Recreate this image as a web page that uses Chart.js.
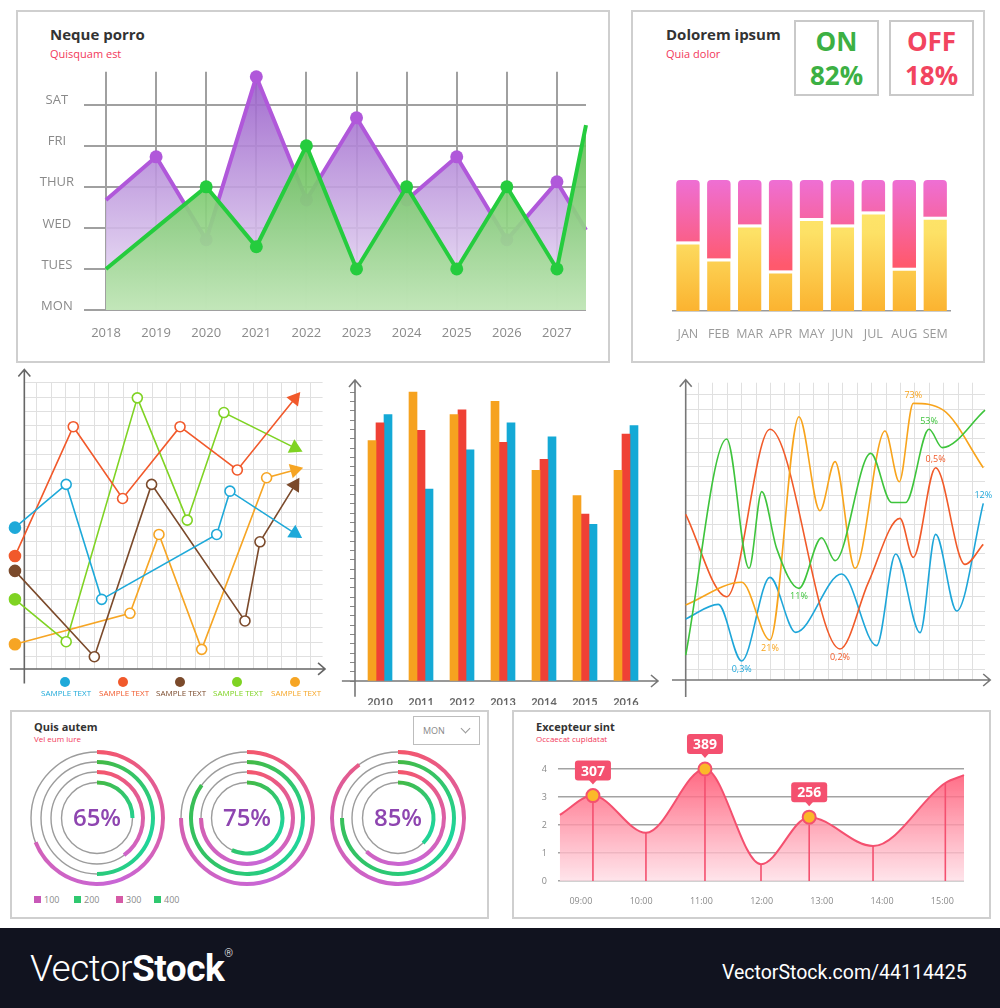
<!DOCTYPE html>
<html lang="en">
<head>
<meta charset="UTF-8">
<title>Dashboard charts</title>
<script src="https://cdn.jsdelivr.net/npm/chart.js"></script>
<style>
  body { margin:0; width:1000px; height:1008px; position:relative; overflow:hidden; background:#fff; font-family:'Open Sans', sans-serif; }
  canvas { position:absolute; }
  .panel { position:absolute; border:2px solid #cfcfcf; box-sizing:border-box; }
  .txt { position:absolute; white-space:nowrap; line-height:1; }
  .title { font-weight:700; color:#333; }
  .sub { color:#f2385a; }
  .stat { position:absolute; border:2px solid #c9c9c9; box-sizing:border-box; display:flex; flex-direction:column; align-items:center; justify-content:center; font-weight:700; font-size:26px; line-height:34px; }
  .footer { position:absolute; left:0; top:928px; width:1000px; height:80px; background:#11131f; color:#fff; font-family:Roboto, sans-serif; }
</style>
</head>
<body>
<div class="panel" style="left:16px;top:10px;width:594px;height:353px"></div>
<div class="panel" style="left:631px;top:10px;width:354px;height:353px"></div>
<div class="panel" style="left:10px;top:710px;width:479px;height:209px"></div>
<div class="panel" style="left:512px;top:710px;width:479px;height:209px"></div>

<div class="txt title" style="left:50px;top:27px;font-size:15px">Neque porro</div>
<div class="txt sub" style="left:50px;top:48px;font-size:11px">Quisquam est</div>
<div class="txt title" style="left:666px;top:27px;font-size:15px">Dolorem ipsum</div>
<div class="txt sub" style="left:666px;top:48px;font-size:11px">Quia dolor</div>
<div class="stat" style="left:794px;top:20px;width:85px;height:76px;color:#3cb043"><span>ON</span><span>82%</span></div>
<div class="stat" style="left:889px;top:20px;width:85px;height:76px;color:#f2445f"><span>OFF</span><span>18%</span></div>

<div class="txt title" style="left:34px;top:721px;font-size:11px">Quis autem</div>
<div class="txt sub" style="left:34px;top:735px;font-size:8px">Vel eum iure</div>
<div style="position:absolute;left:413px;top:716px;width:67px;height:29px;border:1.5px solid #bdbdbd;box-sizing:border-box">
  <span class="txt" style="left:9px;top:9px;font-size:9px;color:#888">MON</span>
  <span style="position:absolute;left:48px;top:8px;width:6px;height:6px;border-right:1.2px solid #999;border-bottom:1.2px solid #999;transform:rotate(45deg)"></span>
</div>
<div class="txt title" style="left:536px;top:721px;font-size:11px">Excepteur sint</div>
<div class="txt sub" style="left:536px;top:735px;font-size:8px">Occaecat cupidatat</div>

<div class="footer">
  <div class="txt" style="left:30px;top:22px;font-size:37px;letter-spacing:-0.5px"><span style="font-weight:300">Vector</span><span style="font-weight:700">Stock</span><sup style="font-size:11px;font-weight:300;vertical-align:top;position:relative;top:-2px">®</sup></div>
  <div class="txt" style="left:722px;top:35px;font-size:19.5px;font-weight:400">VectorStock.com/44114425</div>
</div>

<script>
// ---- Neque porro: weekday area lines ----
const dayLabels = ['MON', 'TUES', 'WED', 'THUR', 'FRI', 'SAT'];
const yearTicks = [2018, 2019, 2020, 2021, 2022, 2023, 2024, 2025, 2026, 2027];
const areaX = [2018, 2019, 2020, 2021, 2022, 2023, 2024, 2025, 2026, 2027, 2027.58];
const purpleDays = [2.68, 3.73, 1.71, 5.68, 2.68, 4.68, 2.68, 3.73, 1.71, 3.12, 1.95];
const greenDays = [1, 2, 3, 1.54, 4, 1, 3, 1, 3, 1, 4.5];

// ---- Dolorem ipsum: on/off stacked bars ----
const months = ['JAN', 'FEB', 'MAR', 'APR', 'MAY', 'JUN', 'JUL', 'AUG', 'SEM'];
const onShare = [53, 40, 66, 31, 71, 66, 76, 33, 72];
const offShare = [47, 60, 34, 69, 29, 34, 24, 67, 28];

// ---- zigzag lines with arrows ----
const bluePts = [[-0.65, 9.8], [2.9, 12.8], [5.36, 4.83], [13.33, 9.33], [14.25, 12.33], [18.75, 9.4]];
const redPts = [[-0.65, 7.83], [3.39, 16.8], [6.81, 11.82], [10.79, 16.8], [14.76, 13.8], [18.75, 18.75]];
const brownPts = [[-0.65, 6.8], [4.85, 0.85], [8.82, 12.8], [15.29, 3.33], [16.33, 8.82], [18.75, 12.75]];
const limePts = [[-0.65, 4.83], [2.9, 1.89], [7.83, 18.8], [11.29, 10.32], [13.83, 17.78], [18.75, 15.33]];
const amberPts = [[-0.65, 1.71], [7.32, 3.86], [9.33, 9.33], [12.29, 1.36], [16.79, 13.26], [18.75, 13.8]];
const zigLegend = ['SAMPLE TEXT', 'SAMPLE TEXT', 'SAMPLE TEXT', 'SAMPLE TEXT', 'SAMPLE TEXT'];

// ---- grouped bars 2010-2016 ----
const barYears = [2010, 2011, 2012, 2013, 2014, 2015, 2016];
const orangeBars = [25.8, 31.0, 28.6, 30.0, 22.6, 19.9, 22.6];
const redBars = [27.7, 26.9, 29.1, 25.6, 23.8, 17.9, 26.5];
const blueBars = [28.6, 20.6, 24.8, 27.7, 26.2, 16.8, 27.4];

// ---- wavy lines ----
const greenWave = [[0, 1.73], [2.84, 16.7], [4.39, 7.74], [5.27, 13.05], [6.3, 9.12], [7.85, 6.35], [9.42, 9.86], [10.35, 8.27], [12.82, 15.7], [14.27, 12.3], [15.24, 12.3], [16.86, 17.37], [17.78, 16.1], [20.74, 18.7]];
const orangeWave = [[0, 5.2], [3.88, 6.77], [5.84, 2.77], [7.85, 18.24], [9.3, 11.73], [10.35, 15.13], [11.73, 7.74], [13.81, 17.25], [14.8, 13.74], [15.77, 19.17], [17.85, 18.7], [20.62, 14.71]];
const redWave = [[0, 11.48], [2.84, 5.77], [5.84, 17.37], [10.69, 2.15], [12.66, 6.77], [14.85, 11.2], [15.77, 8.5], [17.32, 14.71], [19.35, 8.01], [20.62, 9.4]];
const blueWave = [[0, 4.23], [2.26, 5.24], [3.88, 1.32], [5.84, 7.11], [7.62, 3.3], [10.81, 7.34], [13.23, 2.38], [14.55, 8.73], [16.24, 3.28], [17.32, 10.09], [18.78, 4.78], [20.62, 12.24]];
// [text, series, point]
const waveTags = [['73%', 1, 9], ['53%', 0, 11], ['0,5%', 2, 7], ['12%', 3, 11], ['11%', 0, 5], ['21%', 1, 2], ['0,2%', 2, 3], ['0,3%', 3, 2]];

// ---- Quis autem: ring gauges ----
const ringShare = [[69, 50, 40, 25], [75, 85, 75, 57], [90, 75, 62, 37.5]];
const donutLabels = ['65%', '75%', '85%'];
const ringLegend = ['100', '200', '300', '400'];

// ---- Excepteur sint: area over time ----
const timeTicks = [9, 10, 11, 12, 13, 14, 15];
const timeLabels = ['09:00', '10:00', '11:00', '12:00', '13:00', '14:00', '15:00'];
const loadHours = [8.65, 9.2, 10.08, 11.06, 11.99, 12.79, 13.85, 15.05, 15.36];
const loadVals = [2.36, 3.05, 1.72, 4.0, 0.6, 2.28, 1.25, 3.5, 3.78];
const calloutIdx = [1, 3, 5];
const calloutText = ['307', '389', '256'];

Chart.defaults.font.family = "'Open Sans', sans-serif";
Chart.defaults.animation = false;
Chart.defaults.events = [];
Chart.defaults.plugins.legend.display = false;
Chart.defaults.plugins.tooltip.enabled = false;

function makeCanvas(left, top, w, h) {
    const c = document.createElement('canvas');
    c.width = w; c.height = h;
    c.style.left = left + 'px'; c.style.top = top + 'px';
    document.body.appendChild(c);
    return c.getContext('2d');
}

function addText(text, left, top, css) {
    const d = document.createElement('div');
    d.className = 'txt';
    d.textContent = text;
    d.style.cssText += `left:${left}px;top:${top}px;` + css;
    document.body.appendChild(d);
}

// vertical gradient over the chart area
function vGrad(chart, stops) {
    const a = chart.chartArea;
    if (!a) return stops[0][1];
    const g = chart.ctx.createLinearGradient(0, a.top, 0, a.bottom);
    stops.forEach(s => g.addColorStop(s[0], s[1]));
    return g;
}

function gridTicks(offset, max) {
    const t = [];
    for (let v = offset; v <= max; v += 1) t.push({ value: v });
    return t;
}

// axis lines with open arrow heads, placed in data units
const axisArrows = {
    id: 'axisArrows',
    beforeDatasetsDraw(chart, args, opts) {
        const { ctx, scales: { x, y } } = chart;
        const ox = x.getPixelForValue(opts.origin[0]), oy = y.getPixelForValue(opts.origin[1]);
        const x0 = x.getPixelForValue(opts.xSpan[0]), x1 = x.getPixelForValue(opts.xSpan[1]);
        const y0 = y.getPixelForValue(opts.ySpan[0]), y1 = y.getPixelForValue(opts.ySpan[1]);
        ctx.save();
        if (opts.mask) {
            // keep the grid to the positive quadrant
            const a = chart.chartArea;
            ctx.fillStyle = '#ffffff';
            ctx.fillRect(a.left - 1, a.top - 1, ox - a.left + 1, a.bottom - a.top + 2);
            ctx.fillRect(a.left - 1, oy, a.right - a.left + 2, a.bottom - oy + 1);
        }
        ctx.strokeStyle = opts.color;
        ctx.lineWidth = 1.6;
        ctx.beginPath();
        ctx.moveTo(x0, oy); ctx.lineTo(x1, oy);
        ctx.moveTo(ox, y0); ctx.lineTo(ox, y1);
        ctx.moveTo(x1 - 7, oy - 6); ctx.lineTo(x1, oy); ctx.lineTo(x1 - 7, oy + 6);
        ctx.moveTo(ox - 6, y1 + 7); ctx.lineTo(ox, y1); ctx.lineTo(ox + 6, y1 + 7);
        ctx.stroke();
        ctx.restore();
    }
};

// ---------- chart 1 ----------
new Chart(makeCanvas(30, 54, 566, 296), {
    type: 'line',
    data: {
        datasets: [
            {
                data: greenDays.map((v, i) => ({ x: areaX[i], y: v })),
                borderColor: '#25cc3e', borderWidth: 4, tension: 0, fill: 'start', order: 1, clip: false,
                backgroundColor: ctx => vGrad(ctx.chart, [[0, 'rgba(66,176,50,0.92)'], [1, 'rgba(190,230,180,0.92)']]),
                pointRadius: ctx => [0, 1, 10].includes(ctx.dataIndex) ? 0 : 6.5,
                pointBackgroundColor: '#25cc3e', pointBorderWidth: 0
            },
            {
                data: purpleDays.map((v, i) => ({ x: areaX[i], y: v })),
                borderColor: '#b058da', borderWidth: 4, tension: 0, fill: 'start', order: 2, clip: false,
                backgroundColor: ctx => vGrad(ctx.chart, [[0, 'rgba(150,90,200,0.9)'], [1, 'rgba(240,232,248,0.9)']]),
                pointRadius: ctx => [0, 10].includes(ctx.dataIndex) ? 0 : 6.5,
                pointBackgroundColor: '#b058da', pointBorderWidth: 0
            }
        ]
    },
    options: {
        responsive: false,
        layout: { padding: { top: 12, right: 10 } },
        scales: {
            x: {
                type: 'linear', min: 2018, max: 2027.58,
                afterBuildTicks: s => { s.ticks = yearTicks.map(v => ({ value: v })); },
                ticks: { callback: v => String(v), color: '#8a8a8a', font: { size: 13 }, padding: 15 },
                grid: { color: '#a0a0a0', lineWidth: 2, drawTicks: false },
                border: { display: false },
                afterFit: s => { s.height = 40; }
            },
            y: {
                min: 0, max: 5.8,
                afterBuildTicks: s => { s.ticks = dayLabels.map((d, i) => ({ value: i })); },
                ticks: { callback: v => dayLabels[v], color: '#8a8a8a', font: { size: 13 }, crossAlign: 'center', padding: 10, labelOffset: -4 },
                grid: { color: '#a0a0a0', lineWidth: 2, tickLength: 22 },
                border: { display: false },
                afterFit: s => { s.width = 76; }
            }
        }
    }
});

// ---------- chart 2 ----------
new Chart(makeCanvas(655, 165, 310, 190), {
    type: 'bar',
    data: {
        labels: months,
        datasets: [
            {
                data: onShare,
                backgroundColor: ctx => vGrad(ctx.chart, [[0, '#fee96f'], [0.4, '#fde166'], [1, '#fbb330']]),
                borderColor: '#ffffff', borderWidth: { top: 3 }, borderSkipped: 'bottom'
            },
            {
                data: offShare,
                backgroundColor: ctx => vGrad(ctx.chart, [[0, '#ee6fd4'], [0.65, '#ff596d'], [1, '#ff596d']]),
                borderWidth: 0, borderRadius: { topLeft: 4, topRight: 4 }, borderSkipped: false
            }
        ]
    },
    options: {
        responsive: false,
        datasets: { bar: { barPercentage: 0.76, categoryPercentage: 1 } },
        layout: { padding: { left: 17.5, right: 14.4, top: 15 } },
        scales: {
            x: {
                stacked: true,
                grid: { display: false },
                border: { color: '#9a9a9a', width: 1.5 },
                ticks: { color: '#9a9a9a', font: { size: 12.5 }, padding: 8, maxRotation: 0, minRotation: 0, autoSkip: false },
                afterFit: s => { s.height = 44; }
            },
            y: { stacked: true, display: false, min: 0, max: 100 }
        }
    }
});

// ---------- chart 3 ----------
const zigSeries = [bluePts, redPts, brownPts, limePts, amberPts];
const zigColors = ['#1ea9d9', '#f1592b', '#7b4a2b', '#7fd323', '#f6a524'];
new Chart(makeCanvas(0, 360, 340, 345), {
    type: 'scatter',
    data: {
        datasets: zigSeries.map((pts, k) => ({
            data: pts.map(p => ({ x: p[0], y: p[1] })),
            showLine: true, clip: false,
            borderColor: zigColors[k], borderWidth: 1.6,
            pointBorderColor: zigColors[k], pointBorderWidth: 1.6,
            pointRadius: ctx => ctx.dataIndex === 0 ? 5.5 : (ctx.dataIndex === pts.length - 1 ? 7 : 5),
            pointBackgroundColor: ctx => (ctx.dataIndex === 0 || ctx.dataIndex === pts.length - 1) ? zigColors[k] : '#ffffff',
            pointStyle: ctx => ctx.dataIndex === pts.length - 1 ? 'triangle' : 'circle',
            pointRotation: ctx => {
                const i = ctx.dataIndex;
                if (i !== pts.length - 1) return 0;
                const xs = ctx.chart.scales.x, ys = ctx.chart.scales.y;
                const dx = xs.getPixelForValue(pts[i][0]) - xs.getPixelForValue(pts[i - 1][0]);
                const dy = ys.getPixelForValue(pts[i][1]) - ys.getPixelForValue(pts[i - 1][1]);
                return Math.atan2(dy, dx) * 180 / Math.PI + 90;
            }
        }))
    },
    options: {
        responsive: false,
        layout: { padding: { left: 9.9, right: 17.4, top: 22, bottom: 21.6 } },
        scales: {
            x: {
                min: -1, max: 20.67,
                afterBuildTicks: s => { s.ticks = gridTicks(0.85, 20.67); },
                ticks: { display: false }, grid: { color: '#e0e0e0', drawTicks: false }, border: { display: false },
                afterFit: s => { s.height = 0; }
            },
            y: {
                min: -1, max: 19.9,
                afterBuildTicks: s => { s.ticks = gridTicks(0.85, 19.9); },
                ticks: { display: false }, grid: { color: '#e0e0e0', drawTicks: false }, border: { display: false },
                afterFit: s => { s.width = 0; }
            }
        },
        plugins: { axisArrows: { color: '#666', origin: [0, 0], xSpan: [-1, 20.84], ySpan: [-1, 20.76], mask: true } }
    },
    plugins: [axisArrows]
});
// legend for chart 3
const zigLegendX = [65, 123, 180, 237, 295];
zigLegend.forEach((t, k) => {
    const dot = document.createElement('div');
    dot.style.cssText = `position:absolute;left:${zigLegendX[k] - 5}px;top:677px;width:10px;height:10px;border-radius:50%;background:${zigColors[k]}`;
    document.body.appendChild(dot);
    addText(t, zigLegendX[k] - 24, 689, `font-size:8px;color:${zigColors[k]};width:48px;text-align:center`);
});

// ---------- chart 4 ----------
new Chart(makeCanvas(340, 370, 325, 335), {
    type: 'bar',
    data: {
        labels: barYears,
        datasets: [
            { data: orangeBars, backgroundColor: '#f6a21f' },
            { data: redBars, backgroundColor: '#ef4135' },
            { data: blueBars, backgroundColor: '#14a9d6' }
        ]
    },
    options: {
        responsive: false,
        datasets: { bar: { barThickness: 8, borderWidth: 0 } },
        layout: { padding: { left: 10, right: 14, top: 10 } },
        scales: {
            x: {
                type: 'linear', min: 2009.39, max: 2016.61, offset: false,
                afterBuildTicks: s => { s.ticks = barYears.map(v => ({ value: v })); },
                ticks: { callback: v => String(v), color: '#666', font: { size: 11, weight: 'bold', family: 'Lato' }, padding: 7 },
                grid: { display: false }, border: { display: false },
                afterFit: s => { s.height = 24; }
            },
            y: {
                min: 0, max: 32.3,
                ticks: { display: false, stepSize: 1 },
                afterBuildTicks: s => { s.ticks = s.ticks.filter(t => Number.isInteger(t.value)); },
                grid: { drawOnChartArea: false, tickLength: 5, color: '#888' },
                border: { display: false },
                afterFit: s => { s.width = 5; }
            }
        },
        plugins: { axisArrows: { color: '#777', origin: [2009.39, 0], xSpan: [2009.07, 2016.78], ySpan: [-1.7, 32.3] } }
    },
    plugins: [axisArrows]
});

// ---------- chart 5 ----------
const waveSeries = [greenWave, orangeWave, redWave, blueWave];
const waveColors = ['#3ec43c', '#f8a41c', '#f15a29', '#1ea6d9'];
const waveTagPlugin = {
    id: 'waveTags',
    afterDatasetsDraw(chart) {
        const { ctx } = chart;
        ctx.save();
        ctx.font = "9px 'Open Sans', sans-serif";
        ctx.textAlign = 'center';
        ctx.textBaseline = 'middle';
        waveTags.forEach(([text, s, i]) => {
            const pts = waveSeries[s];
            const el = chart.getDatasetMeta(s).data[i];
            const prev = pts[i - 1] ? pts[i - 1][1] : -Infinity;
            const next = pts[i + 1] ? pts[i + 1][1] : -Infinity;
            const isPeak = pts[i][1] >= prev && pts[i][1] >= next;
            ctx.fillStyle = waveColors[s];
            ctx.fillText(text, el.x, el.y + (isPeak ? -8 : 8));
        });
        ctx.restore();
    }
};
new Chart(makeCanvas(665, 365, 335, 340), {
    type: 'scatter',
    data: {
        datasets: waveSeries.map((pts, k) => ({
            data: pts.map(p => ({ x: p[0], y: p[1] })),
            showLine: true, cubicInterpolationMode: 'monotone', clip: false,
            borderColor: waveColors[k], borderWidth: 1.6, pointRadius: 0
        }))
    },
    options: {
        responsive: false,
        layout: { padding: { left: 20.7, right: 15, top: 17.7, bottom: 25 } },
        scales: {
            x: {
                min: 0, max: 20.74,
                afterBuildTicks: s => { s.ticks = gridTicks(0.88, 20.74); },
                ticks: { display: false }, grid: { color: '#e0e0e0', drawTicks: false }, border: { display: false },
                afterFit: s => { s.height = 0; }
            },
            y: {
                min: 0, max: 20.6,
                afterBuildTicks: s => { s.ticks = gridTicks(0.76, 20.6); },
                ticks: { display: false }, grid: { color: '#e0e0e0', drawTicks: false }, border: { display: false },
                afterFit: s => { s.width = 0; }
            }
        },
        plugins: { axisArrows: { color: '#777', origin: [0, 0], xSpan: [-0.95, 21.1], ySpan: [-1.18, 20.8] } }
    },
    plugins: [axisArrows, waveTagPlugin]
});

// ---------- chart 6: ring gauges ----------
const pinkStops = [[0, '#f4566a'], [0.45, '#c866d6'], [0.75, '#d45fb0'], [1, '#f4566a']];
const greenStops = [[0, '#44b944'], [0.3, '#1fd59c'], [0.6, '#30c468'], [1, '#44b944']];
function conic(chart, stops) {
    const a = chart.chartArea;
    if (!a) return stops[0][1];
    const g = chart.ctx.createConicGradient(-Math.PI / 2, (a.left + a.right) / 2, (a.top + a.bottom) / 2);
    stops.forEach(s => g.addColorStop(s[0], s[1]));
    return g;
}
const ringTracks = {
    id: 'ringTracks',
    beforeDatasetsDraw(chart) {
        const { ctx } = chart;
        ctx.save();
        ctx.strokeStyle = '#9c9c9c';
        ctx.lineWidth = 1.4;
        chart.data.datasets.forEach((ds, i) => {
            if (!ds.ring) return;
            const arc = chart.getDatasetMeta(i).data[0];
            ctx.beginPath();
            ctx.arc(arc.x, arc.y, (arc.innerRadius + arc.outerRadius) / 2, 0, Math.PI * 2);
            ctx.stroke();
        });
        ctx.restore();
    }
};
const centerLabel = {
    id: 'centerLabel',
    afterDraw(chart, args, opts) {
        const { ctx, chartArea: a } = chart;
        ctx.save();
        ctx.font = "600 24px 'Open Sans', sans-serif";
        ctx.fillStyle = '#8e45b0';
        ctx.textAlign = 'center';
        ctx.textBaseline = 'middle';
        ctx.fillText(opts.text, (a.left + a.right) / 2, (a.top + a.bottom) / 2 + 1);
        ctx.restore();
    }
};
const donutCenters = [97, 247, 398];
ringShare.forEach((rings, k) => {
    const datasets = [];
    rings.forEach((v, j) => {
        if (j > 0) datasets.push({ data: [1], weight: j === 3 ? 6.5 : 6, backgroundColor: 'rgba(0,0,0,0)', borderWidth: 0 });
        datasets.push({
            data: [v, 100 - v], weight: 4, ring: true, borderWidth: 0,
            backgroundColor: ctx => ctx.dataIndex === 0 ? conic(ctx.chart, j % 2 === 0 ? pinkStops : greenStops) : 'rgba(0,0,0,0)'
        });
    });
    new Chart(makeCanvas(donutCenters[k] - 68, 818 - 68, 136, 136), {
        type: 'doughnut',
        data: { datasets },
        options: {
            responsive: false,
            cutout: 33.5,
            plugins: { centerLabel: { text: donutLabels[k] } }
        },
        plugins: [ringTracks, centerLabel]
    });
});
const ringLegendX = [34, 74, 116, 154];
const ringLegendColors = ['#c858b8', '#2fc86f', '#d65aa6', '#2fc86f'];
ringLegend.forEach((t, k) => {
    const sq = document.createElement('div');
    sq.style.cssText = `position:absolute;left:${ringLegendX[k]}px;top:896px;width:7px;height:7px;background:${ringLegendColors[k]}`;
    document.body.appendChild(sq);
    addText(t, ringLegendX[k] + 10, 895, 'font-size:9px;color:#8a8a8a');
});

// ---------- chart 7 ----------
const dropLines = {
    id: 'dropLines',
    afterDatasetsDraw(chart) {
        const { ctx, chartArea: a } = chart;
        const pts = chart.getDatasetMeta(0).data;
        ctx.save();
        ctx.strokeStyle = '#f4506f';
        ctx.lineWidth = 1.6;
        pts.forEach((p, i) => {
            if (i === 0 || i === pts.length - 1) return;
            const top = calloutIdx.includes(i) ? p.y + 7.5 : p.y;
            ctx.beginPath();
            ctx.moveTo(p.x, top);
            ctx.lineTo(p.x, a.bottom);
            ctx.stroke();
        });
        ctx.restore();
    }
};
const callouts = {
    id: 'callouts',
    afterDraw(chart) {
        const { ctx } = chart;
        const pts = chart.getDatasetMeta(0).data;
        ctx.save();
        calloutIdx.forEach((idx, k) => {
            const p = pts[idx];
            const w = 36, h = 20, bottom = p.y - 15;
            ctx.fillStyle = '#f4506f';
            ctx.beginPath();
            ctx.roundRect(p.x - w / 2, bottom - h, w, h, 3);
            ctx.fill();
            ctx.beginPath();
            ctx.moveTo(p.x - 4, bottom - 0.5);
            ctx.lineTo(p.x, bottom + 4);
            ctx.lineTo(p.x + 4, bottom - 0.5);
            ctx.fill();
            ctx.fillStyle = '#ffffff';
            ctx.font = "bold 14px 'Open Sans', sans-serif";
            ctx.textAlign = 'center';
            ctx.textBaseline = 'middle';
            ctx.fillText(calloutText[k], p.x, bottom - h / 2 + 1);
        });
        ctx.restore();
    }
};
new Chart(makeCanvas(515, 728, 470, 185), {
    type: 'line',
    data: {
        datasets: [{
            data: loadHours.map((h, i) => ({ x: h, y: loadVals[i] })),
            borderColor: '#f4506f', borderWidth: 2, cubicInterpolationMode: 'monotone', fill: 'start', clip: false,
            backgroundColor: ctx => vGrad(ctx.chart, [[0, 'rgba(255,78,108,0.85)'], [1, 'rgba(255,222,230,0.8)']]),
            pointRadius: ctx => calloutIdx.includes(ctx.dataIndex) ? 6.5 : 0,
            pointBackgroundColor: '#fbb829', pointBorderColor: '#f4506f', pointBorderWidth: 2
        }]
    },
    options: {
        responsive: false,
        layout: { padding: { right: 21, top: 41 } },
        scales: {
            x: {
                type: 'linear', min: 8.62, max: 15.36,
                afterBuildTicks: s => { s.ticks = timeTicks.map(v => ({ value: v })); },
                ticks: { callback: v => timeLabels[timeTicks.indexOf(v)], color: '#8a8a8a', font: { size: 9 }, padding: 7 },
                grid: { display: false }, border: { display: false },
                afterFit: s => { s.height = 32; }
            },
            y: {
                min: 0, max: 4,
                ticks: { stepSize: 1, color: '#8a8a8a', font: { size: 9 }, padding: 11 },
                grid: { color: '#a3a3a3', lineWidth: 1.5, drawTicks: false },
                border: { display: false },
                afterFit: s => { s.width = 43; }
            }
        }
    },
    plugins: [dropLines, callouts]
});
</script>
</body>
</html>
